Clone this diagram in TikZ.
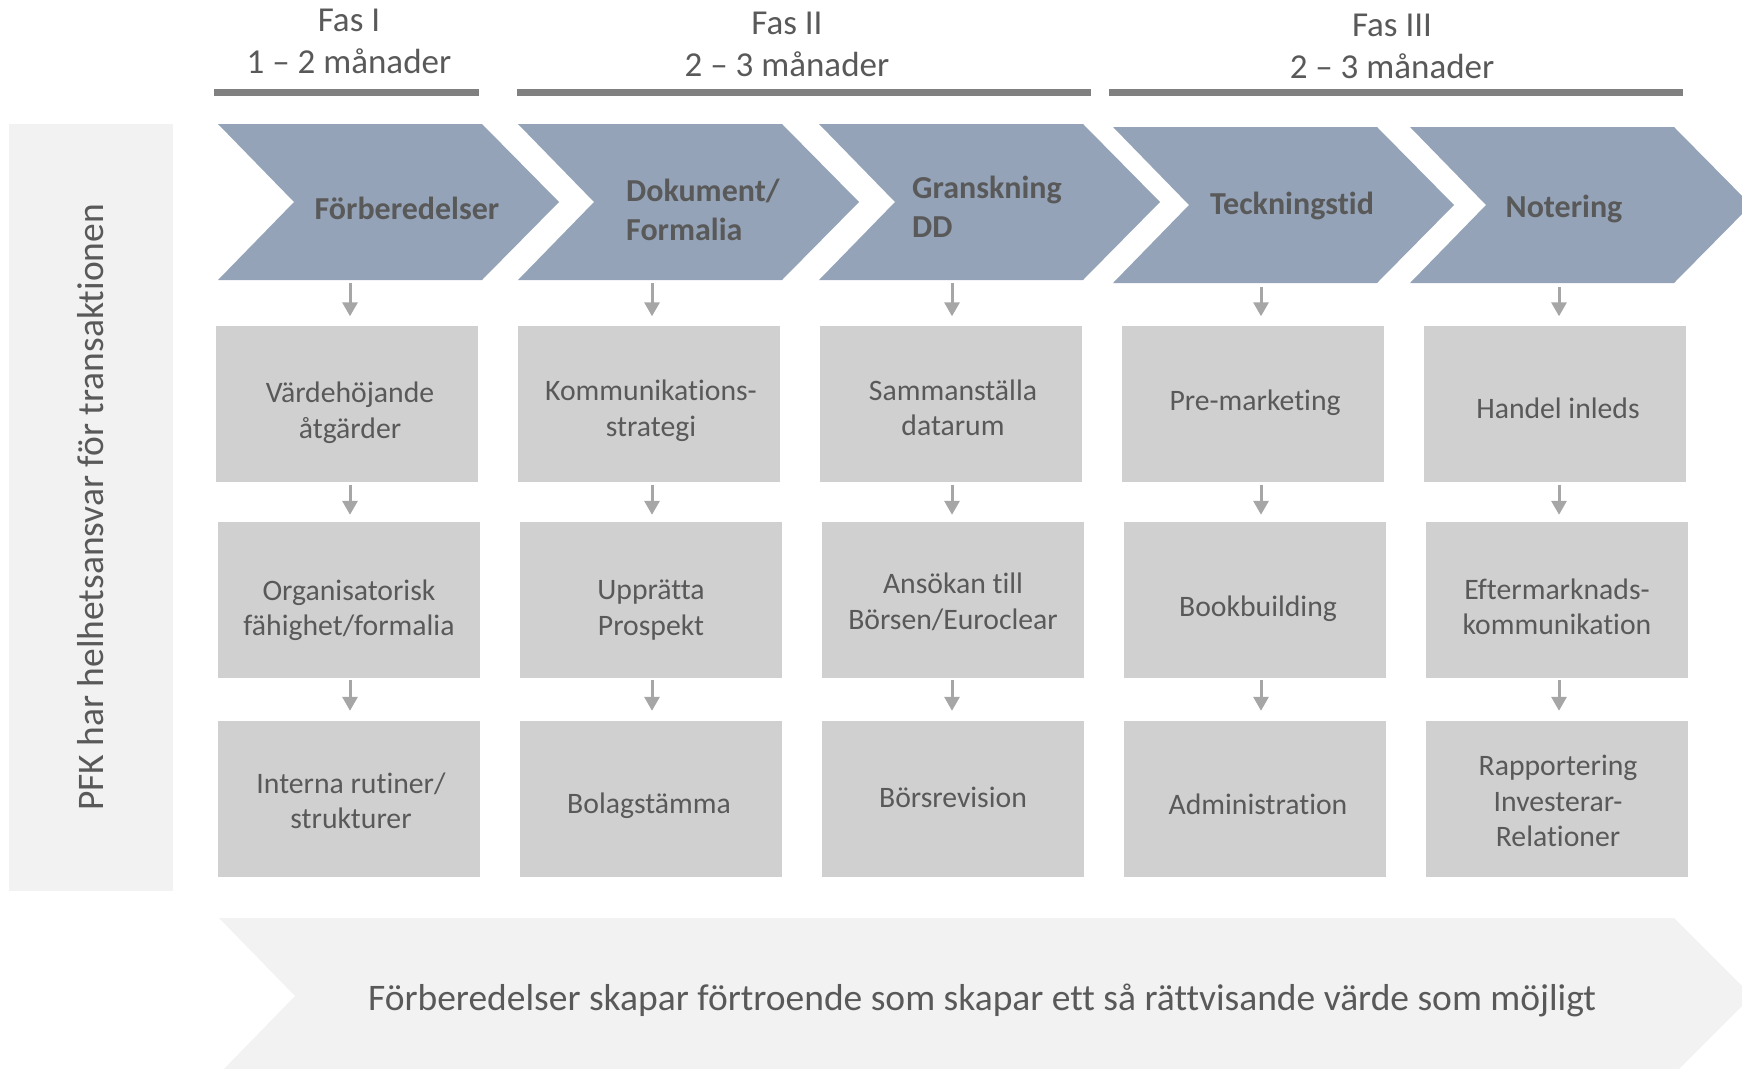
\documentclass[tikz,border=0pt]{standalone}
\usepackage{fontspec}
\setmainfont[Ligatures=NoCommon]{Carlito}
\usetikzlibrary{arrows.meta}
\definecolor{chevfill}{RGB}{148,163,184}
\definecolor{boxfill}{RGB}{208,208,208}
\definecolor{panelfill}{RGB}{242,242,242}
\definecolor{txtgray}{RGB}{89,89,89}
\definecolor{bargray}{RGB}{128,128,128}
\definecolor{arrgray}{RGB}{166,166,166}
\begin{document}
\begin{tikzpicture}[x=1pt,y=-1pt,
  box/.style={fill=boxfill, draw=none, minimum width=262pt, minimum height=156pt, inner sep=0pt},
  boxtxt/.style={align=center, inner sep=0pt, text=txtgray, font=\fontsize{29.7}{35.5}\selectfont},
  chevtxt/.style={text=txtgray, align=left, inner sep=0pt, font=\fontsize{32}{38.5}\selectfont\bfseries},
  hdr/.style={text=txtgray, align=center, inner sep=0pt, font=\fontsize{35}{42}\selectfont},
  bar/.style={draw=bargray, line width=7pt},
  chev/.style={fill=chevfill, draw=none},
  arr/.style={draw=arrgray, line width=3pt, -{Triangle[length=14pt,width=15pt]}},
  panel/.style={fill=panelfill, draw=none, inner sep=0pt, text=txtgray, font=\fontsize{37.5}{44}\selectfont}
]
\useasboundingbox (0,0) rectangle (1742,1068);
\clip (0,0) rectangle (1742,1068);

% phase headers
\node[hdr] (h1) at (349,41) {Fas I\\1 – 2 månader};
\node[hdr] (h2) at (787,44) {Fas II\\2 – 3 månader};
\node[hdr] (h3) at (1392,46.5) {Fas III\\2 – 3 månader};
\draw[bar] (214,92) -- (479,92);
\draw[bar] (517,92) -- (1091,92);
\draw[bar] (1109,92) -- (1683,92);

% side panel
\node[panel, rotate=90, minimum width=767pt, minimum height=164pt] (side) at (91,507.5)
  {PFK har helhetsansvar för transaktionen};

% chevrons
\newcommand{\mychev}[2]{\fill[chev] (#1,#2) -- ++(264,0) -- ++(77,78) -- ++(-77,78) -- ++(-264,0) -- ++(76,-78) -- cycle;}
\mychev{218}{124}
\mychev{518}{124}
\mychev{819}{124}
\mychev{1113}{127}
\mychev{1410}{127}
\node[chevtxt] (c1) at (407,208) {Förberedelser};
\node[chevtxt, anchor=west] (c2) at (626,210) {Dokument/\\Formalia};
\node[chevtxt, anchor=west] (c3) at (912,207) {Granskning\\DD};
\node[chevtxt] (c4) at (1292,206) {Teckningstid};
\node[chevtxt] (c5) at (1564,209) {Notering};

% boxes
\node[box] (b11) at (347,403.5) {};
\node[box] (b12) at (649,403.5) {};
\node[box] (b13) at (951,403.5) {};
\node[box] (b14) at (1253,403.5) {};
\node[box] (b15) at (1555,403.5) {};
\node[box] (b21) at (349,600) {};
\node[box] (b22) at (651,600) {};
\node[box] (b23) at (953,600) {};
\node[box] (b24) at (1255,600) {};
\node[box] (b25) at (1557,600) {};
\node[box] (b31) at (349,799) {};
\node[box] (b32) at (651,799) {};
\node[box] (b33) at (953,799) {};
\node[box] (b34) at (1255,799) {};
\node[box] (b35) at (1557,799) {};

\node[boxtxt] (t11) at ([yshift=-9pt,xshift=3pt]b11.center) {Värdehöjande\\åtgärder};
\node[boxtxt] (t12) at ([yshift=-7pt,xshift=2pt]b12.center) {Kommunikations-\\strategi};
\node[boxtxt] (t13) at ([yshift=-4.5pt,xshift=2pt]b13.center) {Sammanställa\\datarum};
\node[boxtxt] (t14) at ([yshift=1pt,xshift=2pt]b14.center) {Pre-marketing};
\node[boxtxt] (t15) at ([yshift=-4.5pt,xshift=3pt]b15.center) {Handel inleds};
\node[boxtxt] (t21) at ([yshift=-10pt]b21.center) {Organisatorisk\\fähighet/formalia};
\node[boxtxt] (t22) at ([yshift=-10pt]b22.center) {Upprätta\\Prospekt};
\node[boxtxt] (t23) at ([yshift=-2pt]b23.center) {Ansökan till\\Börsen/Euroclear};
\node[boxtxt] (t24) at ([yshift=-9pt,xshift=3pt]b24.center) {Bookbuilding};
\node[boxtxt] (t25) at ([yshift=-7pt]b25.center) {Eftermarknads-\\kommunikation};
\node[boxtxt] (t31) at ([yshift=-2pt,xshift=2pt]b31.center) {Interna rutiner/\\strukturer};
\node[boxtxt] (t32) at ([yshift=-7pt,xshift=-2pt]b32.center) {Bolagstämma};
\node[boxtxt] (t33) at ([yshift=2pt]b33.center) {Börsrevision};
\node[boxtxt] (t34) at ([yshift=-5.5pt,xshift=3pt]b34.center) {Administration};
\node[boxtxt] (t35) at ([yshift=-2pt,xshift=1pt]b35.center) {Rapportering\\Investerar-\\Relationer};

% arrows
\coordinate (a1) at (350,283);
\coordinate (a2) at (652,283);
\coordinate (a3) at (952,283);
\coordinate (a4) at (1261,287);
\coordinate (a5) at (1559,287);
\foreach \i in {1,...,5}{
  \draw[arr, shorten >=9pt] (a\i) -- (a\i |- b1\i.north);
  \draw[arr, shorten <=3pt, shorten >=7pt] (b1\i.south -| a\i) -- (b2\i.north -| a\i);
  \draw[arr, shorten <=2pt, shorten >=10pt] (b2\i.south -| a\i) -- (b3\i.north -| a\i);
}

% bottom arrow
\fill[panelfill] (219,918) -- (1674,918) -- (1752,996) -- (1674,1074) -- (219,1074) -- (295,996) -- cycle;
\node[text=txtgray, inner sep=0pt, font=\fontsize{37.5}{44}\selectfont] (bt) at (982,1000)
  {Förberedelser skapar förtroende som skapar ett så rättvisande värde som möjligt};
\end{tikzpicture}
\end{document}
